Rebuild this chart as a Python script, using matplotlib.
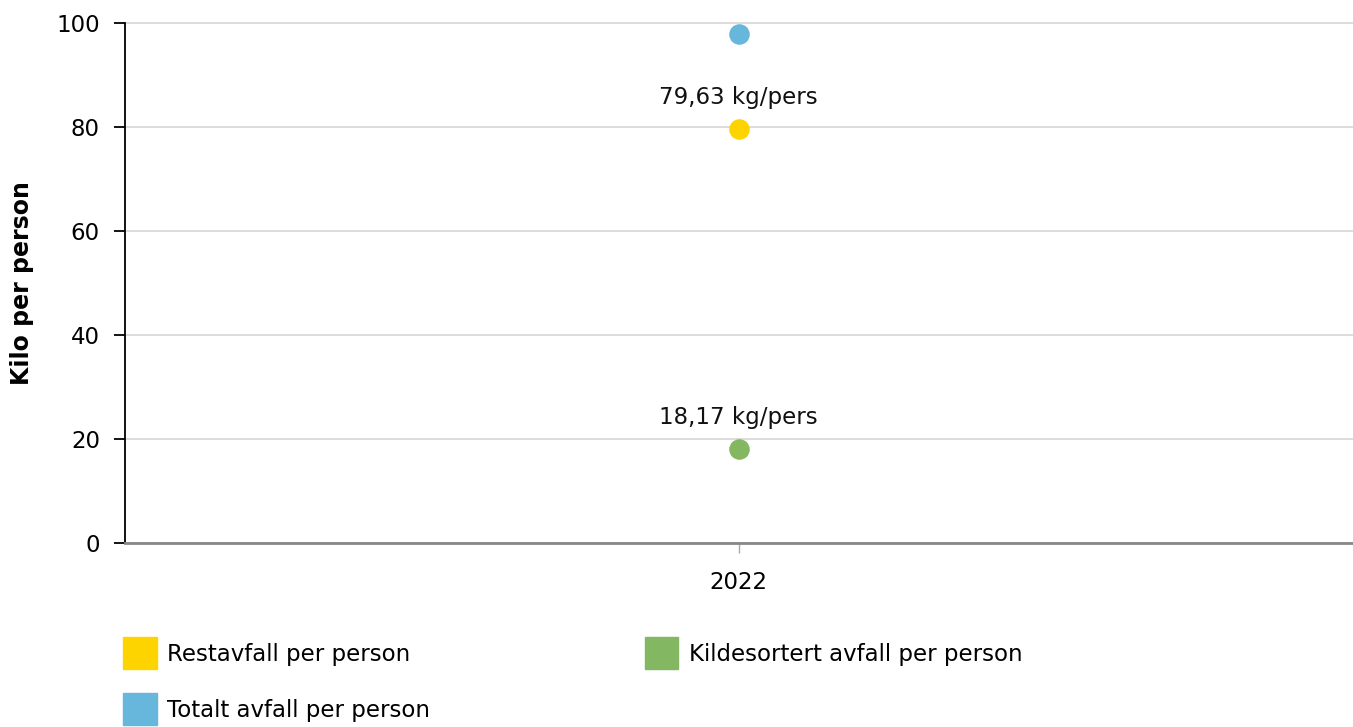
import numpy as np
import matplotlib.pyplot as plt
from matplotlib.patches import Patch

years = ["2022"]
restavfall = [79.63]
kildesortert = [18.17]
totalt = [97.8]
series_names = ["Restavfall per person", "Kildesortert avfall per person", "Totalt avfall per person"]
colors = ["#fdd400", "#84b761", "#67b7dc"]
yticks = [0, 20, 40, 60, 80, 100]

plt.rcParams['font.family'] = ['DejaVu Sans']
fs = 16.5
fig = plt.figure(figsize=(13.53, 7.27), dpi=100)
ax = fig.add_axes([125/1353, 1-543/727, 1-126/1353, 520/727])

x = np.arange(len(years))
for vals, c in zip([restavfall, kildesortert, totalt], colors):
    ax.plot(x, vals, 'o', color=c, markersize=13.8, zorder=3, clip_on=False)

# labels for restavfall and kildesortert only
for vals in [restavfall, kildesortert]:
    for xi, v in zip(x, vals):
        ax.annotate(f"{v:.2f}".replace('.', ',') + " kg/pers", (xi, v), xytext=(0, 14),
                    textcoords='offset points', ha='center', va='bottom', fontsize=fs, color='#111')

ax.set_xlim(-1, 1)
ax.set_ylim(0, 100)
ax.set_yticks(yticks)
ax.set_xticks(x)
ax.set_xticklabels(years)
ax.yaxis.grid(True, color='#d9d9d9', linewidth=1.3)
for gl in ax.yaxis.get_gridlines():
    gl.set_clip_on(False)
ax.set_axisbelow(True)
for s in ['top', 'right']:
    ax.spines[s].set_visible(False)
ax.spines['left'].set_color('black')
ax.spines['left'].set_linewidth(1.3)
ax.spines['bottom'].set_color('#888888')
ax.spines['bottom'].set_linewidth(2)
ax.tick_params(axis='y', length=8, width=1.3, color='black', labelsize=fs, pad=10)
ax.tick_params(axis='x', length=7, width=1, color='#aaaaaa', labelsize=fs, pad=13)
fig.text(22/1353, 1-283/727, "Kilo per person", rotation=90, ha='center', va='center',
         fontsize=17, fontweight='bold')

handles = [Patch(color=colors[0]), Patch(color=colors[2]), Patch(color=colors[1])]
labels = [series_names[0], series_names[2], series_names[1]]
fig.legend(handles, labels, ncol=2, loc='upper left', bbox_to_anchor=(123/1353, 1-637/727),
           frameon=False, fontsize=fs, handlelength=1.48, handleheight=1.8,
           handletextpad=0.45, columnspacing=9.35, labelspacing=1.03,
           borderpad=0, borderaxespad=0)

fig.savefig("out.png", dpi=100)
